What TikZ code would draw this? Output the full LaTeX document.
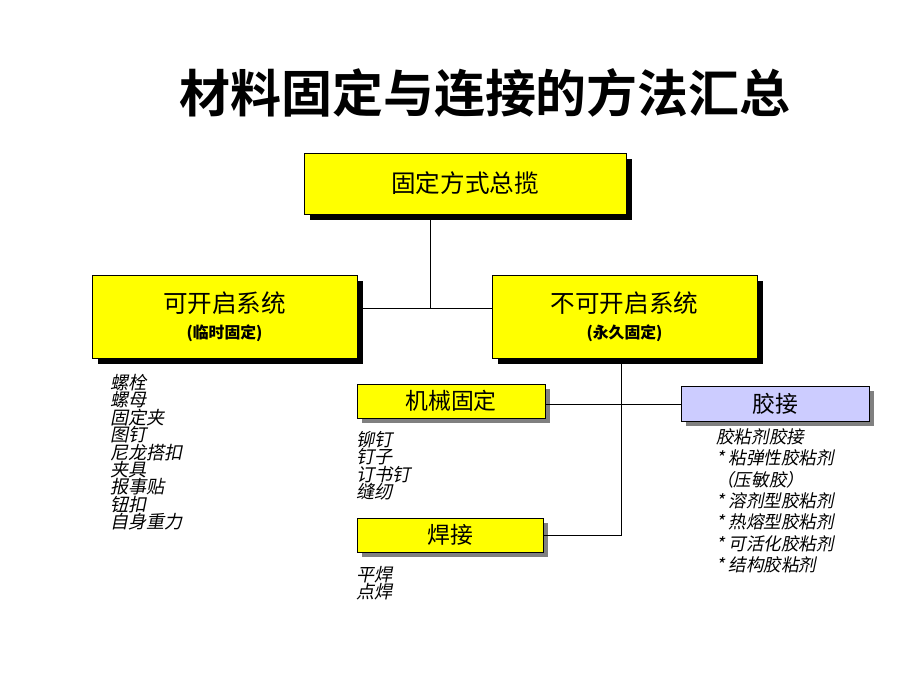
\documentclass[tikz,border=0pt]{standalone}
\usepackage{fontspec}
\setmainfont{Liberation Sans}
\newfontfamily\cjk{Noto Sans CJK SC}
\newfontfamily\cjkbf{Noto Sans CJK SC Bold}
\newfontfamily\cjkit[FakeSlant=0.2]{Noto Sans CJK SC}
\usetikzlibrary{positioning}
\definecolor{boxyellow}{RGB}{255,255,0}
\definecolor{boxlav}{RGB}{204,204,255}
\tikzset{
  bigbox/.style={draw=black,fill=boxyellow,minimum width=5.3cm,minimum height=1.66cm,inner sep=0pt,
    font=\cjk\fontsize{14pt}{16pt}\selectfont,align=center},
  smallbox/.style={draw=black,fill=boxyellow,minimum width=3.76cm,minimum height=0.68cm,inner sep=0pt,
    font=\cjk\fontsize{13pt}{15pt}\selectfont},
  liste/.style={anchor=north west,inner sep=0pt,align=left,font=\cjkit\fontsize{10.3pt}{9.9pt}\selectfont},
}
\begin{document}
\begin{tikzpicture}[x=0.02cm,y=-0.02cm]
\useasboundingbox (0,0) rectangle (920,690);
%标题
\node[font=\cjkbf\fontsize{29pt}{32pt}\selectfont] (title) at (485,93) {材料固定与连接的方法汇总};
%阴影
\fill[black] (310,159) rectangle (632,220);
\fill[black] (98,281) rectangle (363,364);
\fill[black] (498,281) rectangle (763,364);
\fill[gray] (362,389) rectangle (550,423);
\fill[gray] (362,523) rectangle (548,557);
\fill[gray] (686,391) rectangle (874,426);
%方框
\node[bigbox,minimum width=6.44cm,minimum height=1.22cm] (top) at (465,183.5) {固定方式总揽};
\node[bigbox] (left) at (224.5,316.5) {可开启系统\\[-1pt]{\fontsize{9pt}{10pt}\selectfont\bfseries(临时固定)}};
\node[bigbox] (right) at (624.5,316.5) {不可开启系统\\[-1pt]{\fontsize{9pt}{10pt}\selectfont\bfseries(永久固定)}};
\node[smallbox] (mech) at (451,401) {机械固定};
\node[smallbox,minimum width=3.72cm] (weld) at (450,535) {焊接};
\node[smallbox,fill=boxlav,minimum height=0.7cm] (glue) at (775,403.5) {胶接};
%连线
\coordinate (jn) at (430,308);
\coordinate (tr) at (621,535);
\coordinate (mg) at (600,404);
\draw (top.south -| jn) -- (jn);
\draw (363,308) -- (right.west |- jn);
\draw (right.south -| tr) -- (tr) -- (weld.east);
\draw (mech.east |- mg) -- (glue.west |- mg);
%列表
\node[liste] (l1) at (110,374) {螺栓\\螺母\\固定夹\\图钉\\尼龙搭扣\\夹具\\报事贴\\钮扣\\自身重力};
\node[liste] (l2) at (356,431) {铆钉\\钉子\\订书钉\\缝纫};
\node[liste] (l3) at (356,566) {平焊\\点焊};
\node[liste,font=\cjkit\fontsize{10pt}{12.2pt}\selectfont] (l4) at (716,428) {胶粘剂胶接\\* 粘弹性胶粘剂\\（压敏胶）\\* 溶剂型胶粘剂\\* 热熔型胶粘剂\\* 可活化胶粘剂\\* 结构胶粘剂};
\end{tikzpicture}
\end{document}
